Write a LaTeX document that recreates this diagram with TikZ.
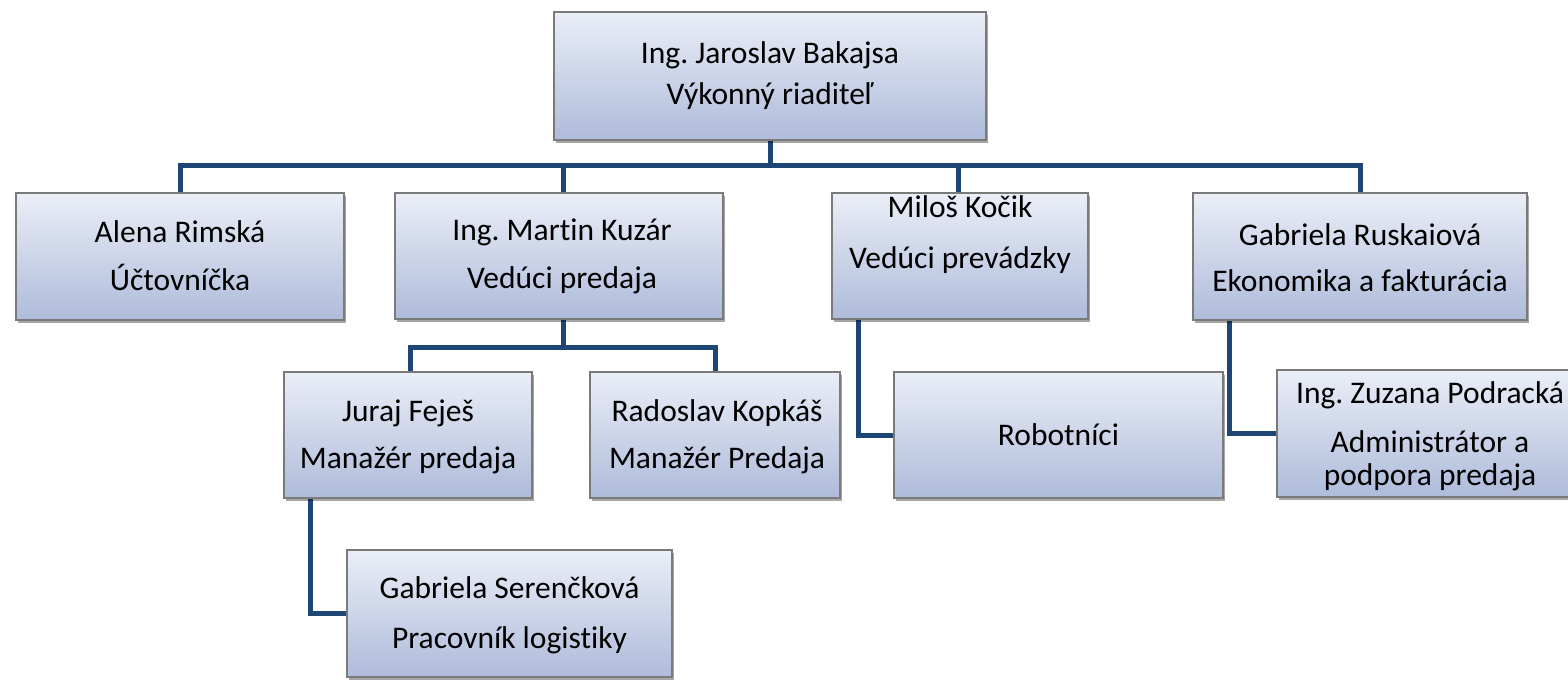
\documentclass[tikz,border=0pt]{standalone}
\usepackage{fontspec}
\setmainfont[Ligatures=NoCommon]{Carlito}
\frenchspacing
\usetikzlibrary{shadows,backgrounds}
\definecolor{conncol}{HTML}{1D4677}
\definecolor{boxtop}{HTML}{EAEEF7}
\definecolor{boxbot}{HTML}{AEBBDA}
\definecolor{boxline}{HTML}{7A7A7A}
\tikzset{
  orgbox/.style={rectangle, draw=boxline, line width=1.2pt, top color=boxtop, bottom color=boxbot,
    inner sep=0pt, drop shadow={shadow xshift=1.5pt, shadow yshift=-3pt, opacity=0.35, fill=black}},
  txt/.style={anchor=base, inner sep=0pt, font=\fontsize{31.5}{38}\selectfont},
  conn/.style={draw=conncol, line width=5pt, line join=miter, line cap=rect}
}
\begin{document}
\begin{tikzpicture}[x=1pt,y=-1pt]
\useasboundingbox (0,0) rectangle (1568,681);
% boxes
\node[orgbox, minimum width=432pt, minimum height=128pt] (top) at (770,76) {};
\node[orgbox, minimum width=328pt, minimum height=127pt] (alena) at (180,256.5) {};
\node[orgbox, minimum width=328pt, minimum height=126pt] (martin) at (559,256) {};
\node[orgbox, minimum width=256pt, minimum height=126pt] (milos) at (960,256) {};
\node[orgbox, minimum width=334pt, minimum height=127pt] (gabr) at (1360,256.5) {};
\node[orgbox, minimum width=248pt, minimum height=126pt] (juraj) at (408,435) {};
\node[orgbox, minimum width=250pt, minimum height=126pt] (rado) at (715,435) {};
\node[orgbox, minimum width=329pt, minimum height=126pt] (robot) at (1058.5,435) {};
\node[orgbox, minimum width=308pt, minimum height=127pt] (zuz) at (1431,433.5) {};
\node[orgbox, minimum width=325pt, minimum height=127pt] (gser) at (509.5,613.5) {};
% texts
\node[txt] (top1) at (770,63) {Ing. Jaroslav Bakajsa};
\node[txt] (top2) at (770,104) {Výkonný riaditeľ};
\node[txt] (alena1) at (180,242) {Alena Rimská};
\node[txt] (alena2) at (180,290) {Účtovníčka};
\node[txt] (martin1) at (562,240) {Ing. Martin Kuzár};
\node[txt] (martin2) at (562,288) {Vedúci predaja};
\node[txt] (milos1) at (960,217) {Miloš Kočik};
\node[txt] (milos2) at (960,268) {Vedúci prevádzky};
\node[txt] (gabr1) at (1360,245) {Gabriela Ruskaiová};
\node[txt] (gabr2) at (1360,291) {Ekonomika a fakturácia};
\node[txt] (juraj1) at (408,421) {Juraj Feješ};
\node[txt] (juraj2) at (408,468) {Manažér predaja};
\node[txt] (rado1) at (717,421) {Radoslav Kopkáš};
\node[txt] (rado2) at (717,468) {Manažér Predaja};
\node[txt] (robot1) at (1058.5,445) {Robotníci};
\node[txt] (zuz1) at (1430,403) {Ing. Zuzana Podracká};
\node[txt] (zuz2) at (1430,452) {Administrátor a};
\node[txt] (zuz3) at (1430,485) {podpora predaja};
\node[txt] (gser1) at (509.5,598) {Gabriela Serenčková};
\node[txt] (gser2) at (509.5,648) {Pracovník logistiky};
% bus coordinates
\coordinate (bus) at (770,165);
\coordinate (mbus) at (563,347);
\begin{scope}[on background layer]
\draw[conn] (top.south) -- (bus);
\draw[conn] (alena.north) |- (bus) -| (gabr.north);
\draw[conn] ([xshift=4pt]martin.north) -- ([xshift=4pt]martin.north |- bus);
\draw[conn] ([xshift=-2pt]milos.north) -- ([xshift=-2pt]milos.north |- bus);
\draw[conn] ([xshift=4pt]martin.south) -- ([xshift=4pt]martin.south |- mbus);
\draw[conn] ([xshift=2pt]juraj.north) |- (mbus) -| (rado.north);
\draw[conn] ([xshift=-98pt]juraj.south) |- (gser.west);
\draw[conn] ([xshift=-102pt]milos.south) |- (robot.west);
\draw[conn] ([xshift=-131pt]gabr.south) |- (zuz.west);
\end{scope}
\end{tikzpicture}
\end{document}
